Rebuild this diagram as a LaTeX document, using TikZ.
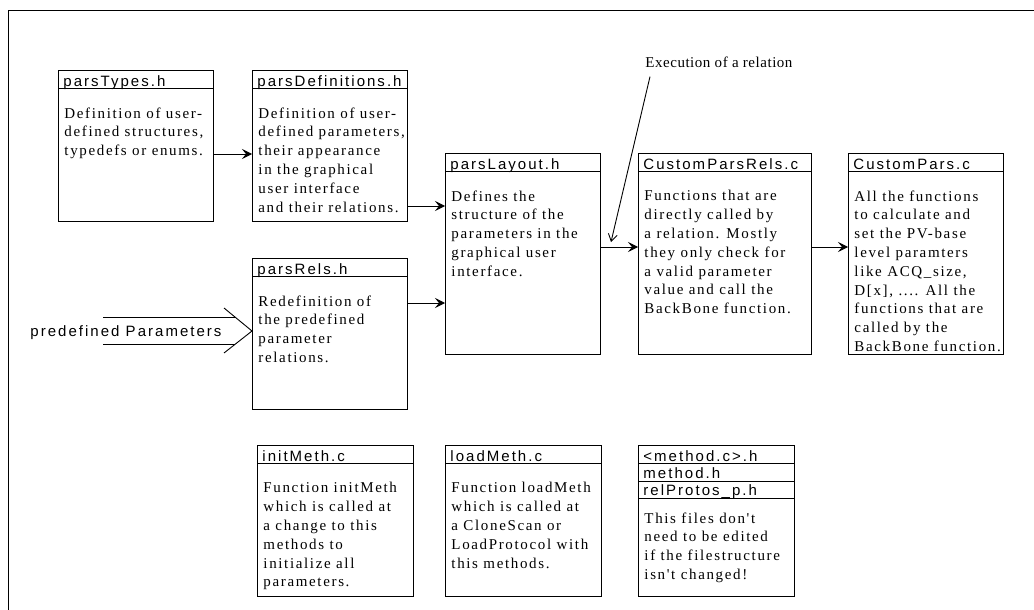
\documentclass[tikz,border=0pt]{standalone}
\usepackage{fontspec}
\setmainfont{Liberation Serif}
\newfontfamily\bodyfont[LetterSpace=11,Ligatures=TeXOff]{Liberation Serif}
\newfontfamily\notefont[LetterSpace=3.5]{Liberation Serif}
\newfontfamily\headfont[LetterSpace=13.5]{Liberation Sans}
\usetikzlibrary{arrows.meta}

\tikzset{
  file/.style={draw, anchor=north west, inner sep=0pt, minimum width=155pt, minimum height=151pt},
  head/.style={anchor=base west, inner sep=0pt, font=\headfont\fontsize{15pt}{17pt}\selectfont},
  body/.style={anchor=north west, align=left, inner sep=0pt, font=\bodyfont\fontsize{15pt}{18.8pt}\selectfont},
  flow/.style={-{Stealth[length=10pt,width=10pt,inset=4pt]}},
}

\begin{document}
\begin{tikzpicture}[x=1pt,y=-1pt,line width=0.9pt]
\useasboundingbox (0,0) rectangle (1034,610);
\draw (1034,10) -- (8,10) -- (8,610);

% upper files
\node[file] (types) at (58,70) {};
\node[file] (defs) at (252,70) {};
\node[file] (rels) at (252,258) {};
\node[file,minimum height=201pt] (layout) at (445,153) {};
\node[file,minimum width=173pt,minimum height=201pt] (custrels) at (638,153) {};
\node[file,minimum height=201pt] (custpars) at (848,153) {};
% lower files
\node[file,minimum width=156pt] (init) at (257,445) {};
\node[file,minimum width=156pt] (load) at (445,445) {};
\node[file,minimum width=156pt] (meth) at (638,445) {};

% file names
\foreach \f in {types,defs,rels,layout,custrels,custpars,init,load,meth}
  \draw ([yshift=-18pt]\f.north west) -- ([yshift=-18pt]\f.north east);
\draw ([yshift=-36pt]meth.north west) -- ([yshift=-36pt]meth.north east);
\draw ([yshift=-53pt]meth.north west) -- ([yshift=-53pt]meth.north east);

\foreach \f/\t in {types/parsTypes.h, defs/parsDefinitions.h, rels/parsRels.h,
    layout/parsLayout.h, custrels/CustomParsRels.c, custpars/CustomPars.c,
    init/initMeth.c, load/loadMeth.c, meth/<method.c>.h}
  \node[head] (\f name) at ([xshift=5pt,yshift=-16pt]\f.north west) {\t};
\node[head] (methname2) at ([xshift=5pt,yshift=-33.5pt]meth.north west) {method.h};
\node[head] (methname3) at ([xshift=5pt,yshift=-50.5pt]meth.north west) {relProtos\_p.h};

% descriptions
\node[body] (typestext) at ([xshift=6pt,yshift=-37pt]types.north west)
  {Definition of user-\\defined structures,\\typedefs or enums.};
\node[body] (defstext) at ([xshift=6pt,yshift=-37pt]defs.north west)
  {Definition of user-\\defined parameters,\\their appearance\\in the graphical\\user interface\\and their relations.};
\node[body] (relstext) at ([xshift=6pt,yshift=-37pt]rels.north west)
  {Redefinition of\\the predefined\\parameter\\relations.};
\node[body] (layouttext) at ([xshift=6pt,yshift=-37pt]layout.north west)
  {Defines the\\structure of the\\parameters in the\\graphical user\\interface.};
\node[body] (custrelstext) at ([xshift=6pt,yshift=-37pt]custrels.north west)
  {Functions that are\\directly called by\\a relation. Mostly\\they only check for\\a valid parameter\\value and call the\\BackBone function.};
\node[body] (custparstext) at ([xshift=6pt,yshift=-37pt]custpars.north west)
  {All the functions\\to calculate and\\set the PV-base\\level paramters\\like ACQ\_size,\\D[x], .... All the\\functions that are\\called by the\\BackBone function.};
\node[body] (inittext) at ([xshift=6pt,yshift=-37pt]init.north west)
  {Function initMeth\\which is called at\\a change to this\\methods to\\initialize all\\parameters.};
\node[body] (loadtext) at ([xshift=6pt,yshift=-37pt]load.north west)
  {Function loadMeth\\which is called at\\a CloneScan or\\LoadProtocol with\\this methods.};
\node[body] (methtext) at ([xshift=6pt,yshift=-67pt]meth.north west)
  {This files don't\\need to be edited\\if the filestructure\\isn't changed!};

% calls between the files
\draw[flow] (types.east |- 0,154) -- (defs.west |- 0,154);
\draw[flow] (defs.east |- 0,206) -- (layout.west |- 0,206);
\draw[flow] (rels.east |- 0,303) -- (layout.west |- 0,303);
\draw[flow] (layout.east |- 0,247) -- (custrels.west |- 0,247);
\draw[flow] (custrels.east |- 0,247) -- (custpars.west |- 0,247);

% relation note
\node[anchor=base west, inner sep=0pt, font=\notefont\fontsize{15pt}{18pt}\selectfont]
  (exec) at (645,67) {Execution of a relation};
\coordinate (hit) at (611,242);
\draw[-{Straight Barb[length=7pt,width=9pt]}] ([xshift=5pt,yshift=-9pt]exec.south west) -- (hit);

% predefined parameters
\node[head] (predef) at (30,336) {predefined Parameters};
\coordinate (tip) at (rels.west |- 0,331);
\draw (tip) ++(-28,-23) -- (tip) -- ++(-28,22);
\draw (tip) ++(-17,-14) -- (103,317);
\draw (tip) ++(-17,13) -- (103,344);
\end{tikzpicture}
\end{document}
